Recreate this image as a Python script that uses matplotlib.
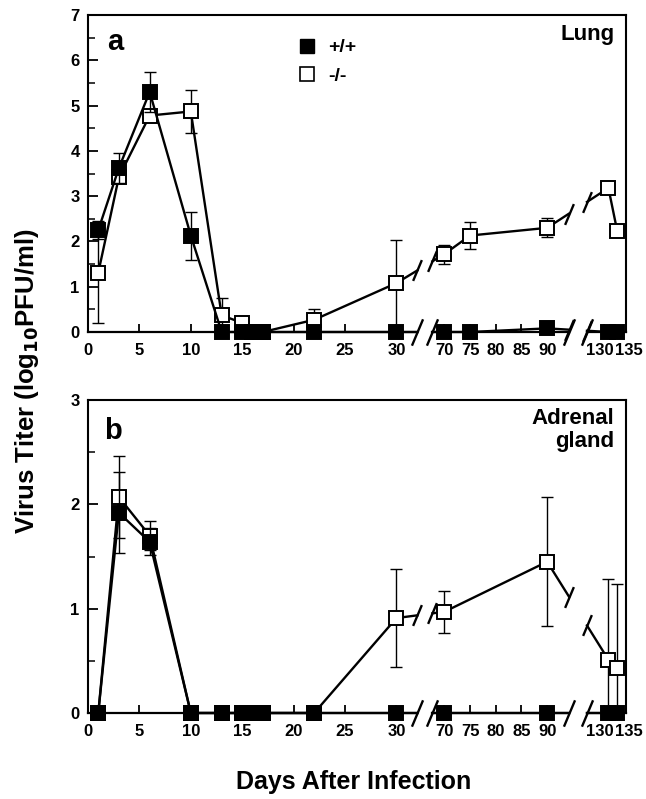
import numpy as np
import matplotlib
matplotlib.use("Agg")
import matplotlib.pyplot as plt
from matplotlib.path import Path
from matplotlib.lines import Line2D
from matplotlib.transforms import ScaledTranslation

plt.rcParams['font.family'] = ['Liberation Sans', 'DejaVu Sans']
plt.rcParams['font.weight'] = 'bold'

# ---------------- data ----------------
# Panel a: Lung
lung_wt_days = [1, 3, 6, 10, 13, 15, 16, 17, 22, 30, 70, 75, 90, 131, 133]
lung_wt_vals = [2.25, 3.62, 5.30, 2.13, 0, 0, 0, 0, 0, 0, 0, 0, 0.08, 0, 0]
lung_wt_err = [0.20, 0.33, 0.45, 0.53, 0, 0, 0, 0, 0, 0, 0, 0, 0, 0, 0]

lung_ko_days = [1, 3, 6, 10, 13, 15, 16, 17, 22, 30, 70, 75, 90, 131, 133]
lung_ko_vals = [1.31, 3.42, 4.78, 4.87, 0.37, 0.20, 0, 0, 0.27, 1.08, 1.72, 2.13, 2.30, 3.18, 2.23]
lung_ko_err = [1.12, 0.08, 0.08, 0.47, 0.38, 0.15, 0, 0, 0.23, 0.95, 0.21, 0.29, 0.21, 0.05, 0]

# Panel b: Adrenal gland
adr_wt_days = [1, 3, 6, 10, 13, 15, 16, 17, 22, 30, 70, 90, 131, 133]
adr_wt_vals = [0, 1.92, 1.64, 0, 0, 0, 0, 0, 0, 0, 0, 0, 0, 0]
adr_wt_err = [0, 0.39, 0.13, 0, 0, 0, 0, 0, 0, 0, 0, 0, 0, 0]

adr_ko_days = [1, 3, 6, 10, 13, 15, 16, 17, 22, 30, 70, 90, 131, 133]
adr_ko_vals = [0, 2.07, 1.70, 0, 0, 0, 0, 0, 0, 0.91, 0.97, 1.45, 0.51, 0.43]
adr_ko_err = [0, 0.39, 0.14, 0, 0, 0, 0, 0, 0, 0.47, 0.20, 0.62, 0.77, 0.81]

xtick_vals = [0, 5, 10, 15, 20, 25, 30, 70, 75, 80, 85, 90, 130, 135]
xtick_labels = ['0', '5', '10', '15', '20', '25', '30', '70', '75', '80', '85', '90', '130', '135']

# ---------------- broken-axis scale ----------------
XD = [0, 30, 70, 90, 130, 135]
XP = [0, 309, 357, 460, 517, 539]
GAPS = [(47.5, 60.0), (105.4, 118.0)]


def fwd(x):
    return np.interp(x, XD, XP)


def inv(p):
    return np.interp(p, XP, XD)


SLASH = Path([(-0.42, -1.0), (0.42, 1.0)], [Path.MOVETO, Path.LINETO])


def split_line(days, vals):
    xs, ys, bx, by = [], [], [], []
    for i in range(len(days)):
        if i > 0:
            x0, x1 = days[i - 1], days[i]
            y0, y1 = vals[i - 1], vals[i]
            for g0, g1 in GAPS:
                if x0 < g0 and x1 > g1:
                    p0, p1 = fwd(x0), fwd(x1)
                    ya = y0 + (y1 - y0) * (fwd(g0) - p0) / (p1 - p0)
                    yb = y0 + (y1 - y0) * (fwd(g1) - p0) / (p1 - p0)
                    xs += [g0, np.nan, g1]
                    ys += [ya, np.nan, yb]
                    if max(ya, yb) > 0.05:
                        bx += [g0, g1]
                        by += [ya, yb]
        xs.append(days[i])
        ys.append(vals[i])
    return xs, ys, bx, by


def draw_series(ax, days, vals, errs, filled, z):
    xs, ys, bx, by = split_line(days, vals)
    ax.plot(xs, ys, color='black', lw=1.7, zorder=z, clip_on=False)
    ax.plot(bx, by, linestyle='none', marker=SLASH, ms=15, mew=1.7,
            color='black', zorder=z, clip_on=False)
    d = np.array(days, float)
    v = np.array(vals, float)
    e = np.array(errs, float)
    m = e > 0
    lo = np.minimum(e[m], v[m])
    ax.errorbar(d[m], v[m], yerr=[lo, e[m]], fmt='none', ecolor='black', elinewidth=1.0,
                capsize=4, capthick=1.0, zorder=z, clip_on=False)
    ax.plot(days, vals, linestyle='none', marker='s', ms=9.5,
            mfc='black' if filled else 'white', mec='black', mew=1.4,
            zorder=z + 0.5, clip_on=False)


fig = plt.figure(figsize=(6.46, 7.99), dpi=100)
ax_a = fig.add_axes([88 / 646, 1 - 332 / 799, 538 / 646, 317 / 799])
ax_b = fig.add_axes([88 / 646, 1 - 713 / 799, 538 / 646, 313 / 799])

for ax, ymax in ((ax_a, 7), (ax_b, 3)):
    ax.set_xscale('function', functions=(fwd, inv))
    ax.set_xlim(0, 135)
    ax.set_ylim(0, ymax)
    ax.set_xticks(xtick_vals)
    ax.set_xticklabels(xtick_labels)
    ax.set_yticks(range(0, ymax + 1))
    ax.set_yticks(np.arange(0.5, ymax, 1.0), minor=True)
    ax.xaxis.set_minor_locator(matplotlib.ticker.NullLocator())
    ax.tick_params(axis='both', which='major', direction='in', length=7, width=1.3,
                   labelsize=12, pad=6)
    ax.tick_params(axis='y', which='minor', direction='in', length=5, width=1.1)
    ax.tick_params(axis='x', which='major', pad=8, length=6)
    for lab in ax.get_xticklabels() + ax.get_yticklabels():
        lab.set_fontweight('bold')
    xl = ax.get_xticklabels()
    xl[-2].set_transform(xl[-2].get_transform() + ScaledTranslation(-4 / 100, 0, fig.dpi_scale_trans))
    xl[-1].set_transform(xl[-1].get_transform() + ScaledTranslation(3 / 100, 0, fig.dpi_scale_trans))
    for s in ('top', 'left', 'right'):
        ax.spines[s].set_linewidth(1.5)
    ax.spines['bottom'].set_visible(False)
    # broken bottom axis
    tr = ax.get_xaxis_transform()
    edges = [0] + [g for pair in GAPS for g in pair] + [135]
    for i in range(0, len(edges), 2):
        ax.plot([edges[i], edges[i + 1]], [0, 0], transform=tr, color='black',
                lw=1.6, clip_on=False, zorder=3)
    gx = [g for pair in GAPS for g in pair]
    ax.plot(gx, [0] * len(gx), transform=tr, linestyle='none', marker=SLASH,
            ms=19, mew=1.7, color='black', clip_on=False, zorder=3)

# open (-/-) first, filled (+/+) on top
draw_series(ax_a, lung_ko_days, lung_ko_vals, lung_ko_err, False, 4)
draw_series(ax_a, lung_wt_days, lung_wt_vals, lung_wt_err, True, 5)
draw_series(ax_b, adr_ko_days, adr_ko_vals, adr_ko_err, False, 4)
draw_series(ax_b, adr_wt_days, adr_wt_vals, adr_wt_err, True, 5)

# panel labels
ax_a.text(0.05, 0.915, 'a', transform=ax_a.transAxes, fontsize=21, fontweight='bold',
          va='center', ha='center')
ax_b.text(0.047, 0.9, 'b', transform=ax_b.transAxes, fontsize=21, fontweight='bold',
          va='center', ha='center')
ax_a.text(0.978, 0.94, 'Lung', transform=ax_a.transAxes, fontsize=16, fontweight='bold',
          va='center', ha='right')
ax_b.text(0.978, 0.975, 'Adrenal\ngland', transform=ax_b.transAxes, fontsize=16,
          fontweight='bold', va='top', ha='right', linespacing=1.15)

# legend
handles = [Line2D([], [], linestyle='none', marker='s', ms=10, mfc='black', mec='black'),
           Line2D([], [], linestyle='none', marker='s', ms=10, mfc='white', mec='black',
                  mew=1.2)]
ax_a.legend(handles, ['+/+', '-/-'], loc='upper left', bbox_to_anchor=(0.36, 0.98),
            frameon=False, handlelength=0.8, handletextpad=0.7, labelspacing=0.55,
            prop={'weight': 'bold', 'size': 14})

fig.text(27 / 646, 1 - 381 / 799, 'Virus Titer (log$_{\\mathbf{10}}$PFU/ml)', rotation=90,
         fontsize=18.5, fontweight='bold', ha='center', va='center')
fig.text(354 / 646, 1 - 782 / 799, 'Days After Infection', fontsize=18, fontweight='bold',
         ha='center', va='center')

fig.savefig('out.png', dpi=100)
